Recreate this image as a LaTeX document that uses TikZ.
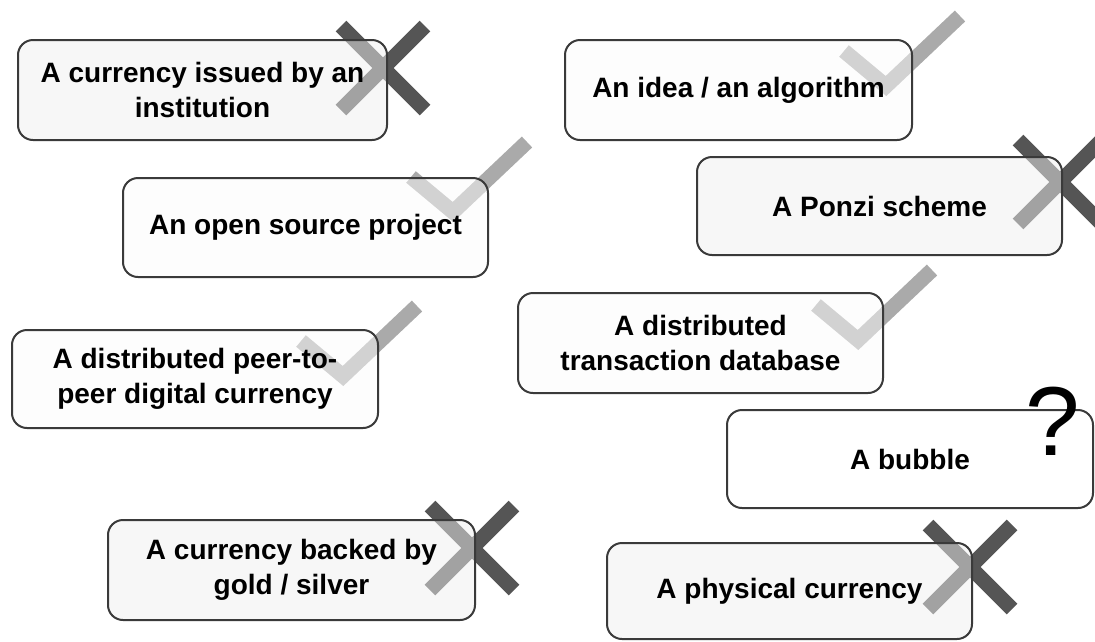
\documentclass[tikz,border=0pt]{standalone}
\usepackage{fontspec}
\setmainfont{Liberation Sans}
\definecolor{xdark}{HTML}{555555}
\definecolor{chk}{HTML}{AAAAAA}
\definecolor{edge}{HTML}{3A3A3A}
\begin{document}
\begin{tikzpicture}[x=1pt,y=-1pt,
  box/.style={draw=edge, line width=2pt, rounded corners=15pt, fill opacity=0.5, text opacity=1,
    align=center, font=\fontsize{28}{35}\selectfont\bfseries, inner sep=0pt},
  xbox/.style={box, fill=gray!12},
  cbox/.style={box, fill=gray!3},
  checkmk/.pic={\draw[chk, line width=15pt, line join=miter] (-42,-35)--(0,0)--(74,-70);},
  crossmk/.pic={\draw[xdark, line width=15pt] (-42,-42)--(42,42) (-42,42)--(42,-42);}
]
\useasboundingbox (0,0) rectangle (1095,641);
% marks (under the boxes)
\pic at (383,68) {crossmk};
\pic at (886,86) {checkmk};
\pic at (453,212) {checkmk};
\pic at (1060,182) {crossmk};
\pic at (343,376) {checkmk};
\pic at (858,340) {checkmk};
\pic at (472,548) {crossmk};
\pic at (970,567) {crossmk};
% boxes
\node[xbox, minimum width=369pt, minimum height=100pt] (b1) at (202.5,90) {A currency issued by an\\institution};
\node[cbox, minimum width=347pt, minimum height=100pt] (b2) at (738.5,90) {An idea / an algorithm};
\node[cbox, minimum width=365pt, minimum height=99pt] (b3) at (305.5,227.5) {An open source project};
\node[xbox, minimum width=365pt, minimum height=98pt] (b4) at (879.5,206) {A Ponzi scheme};
\node[cbox, minimum width=366pt, minimum height=98pt] (b5) at (195,379) {A distributed peer-to-\\peer digital currency};
\node[cbox, minimum width=365pt, minimum height=100pt] (b6) at (700.5,343) {A distributed\\transaction database};
\node[box, fill=white, minimum width=366pt, minimum height=98pt] (b7) at (910,459) {A bubble};
\node[xbox, minimum width=367pt, minimum height=100pt] (b8) at (291.5,570) {A currency backed by\\gold / silver};
\node[xbox, minimum width=365pt, minimum height=96pt] (b9) at (789.5,591) {A physical currency};
\node[anchor=base, inner sep=0pt, font=\fontsize{98}{98}\selectfont] (q) at (1053,455) {?};
\end{tikzpicture}
\end{document}
